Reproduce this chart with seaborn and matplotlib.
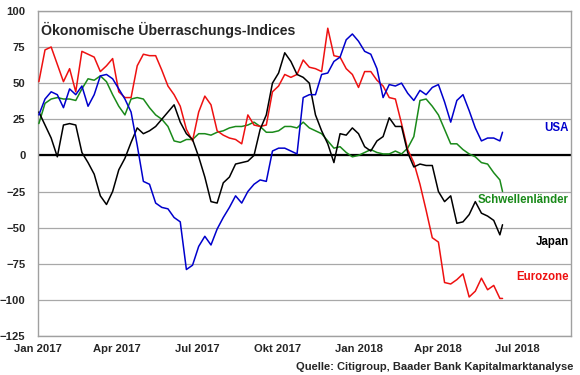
import matplotlib
matplotlib.use("Agg")
import matplotlib.pyplot as plt
import matplotlib.transforms as mtransforms
import pandas as pd
import seaborn as sns

# weekly readings, last point mid-June 2018
dates = list(pd.date_range("2017-01-02", periods=76, freq="7D")) + [pd.Timestamp("2018-06-14")]

usa = [28, 39, 44, 42, 33, 46, 42, 48, 34, 42,
       55, 56, 53, 46, 39, 30, 7, -18, -20, -33,
       -36, -37, -43, -46, -79, -76, -63, -56, -62, -51,
       -43, -36, -28, -33, -25, -20, -17, -18, 3, 5,
       5, 3, 1, 40, 42, 42, 56, 57, 65, 68,
       80, 84, 79, 72, 70, 60, 40, 49, 48, 50,
       43, 38, 45, 42, 47, 49, 37, 23, 38, 42,
       31, 19, 10, 12, 12, 10, 16]
schwellen = [22, 36, 39, 40, 39, 39, 38, 46, 53, 52,
             55, 51, 42, 34, 28, 39, 40, 39, 33, 28,
             25, 20, 10, 9, 11, 11, 15, 15, 14, 16,
             17, 19, 20, 20, 21, 23, 20, 16, 16, 17,
             20, 20, 19, 23, 19, 17, 15, 10, 5, 6,
             2, -1, 0, 2, 4, 2, 1, 1, 3, 1,
             5, 13, 38, 39, 34, 28, 18, 8, 8, 4,
             1, -1, -5, -6, -12, -17, -25]
japan = [30, 21, 12, -1, 21, 22, 21, 2, -5, -13,
         -28, -34, -25, -10, -2, 9, 19, 15, 17, 20,
         25, 30, 35, 23, 15, 11, -1, -15, -32, -33,
         -19, -15, -6, -5, -4, 0, 18, 28, 50, 57,
         71, 65, 56, 54, 50, 28, 17, 8, -5, 15,
         14, 19, 15, 6, 3, 10, 13, 26, 20, 20,
         2, -8, -6, -7, -7, -25, -32, -28, -47, -46,
         -41, -32, -40, -42, -45, -55, -48]
eurozone = [51, 73, 75, 63, 51, 60, 44, 72, 70, 68,
            58, 62, 67, 44, 40, 40, 62, 70, 69, 69,
            59, 48, 42, 34, 18, 10, 30, 41, 35, 17,
            14, 12, 11, 8, 28, 21, 20, 21, 44, 48,
            56, 54, 56, 66, 61, 60, 58, 88, 69, 68,
            60, 56, 47, 58, 58, 52, 48, 40, 39, 22,
            4, -5, -20, -38, -57, -60, -88, -89, -86, -82,
            -98, -94, -85, -93, -90, -99, -99]

series = ["Schwellenländer", "Eurozone", "Japan", "USA"]
colors = {"USA": "#0000cc", "Schwellenländer": "#1a8a1a",
          "Japan": "#000000", "Eurozone": "#ee1111"}
# label positions (value axis) on the right
label_y = {"USA": 19, "Schwellenländer": -31, "Japan": -60, "Eurozone": -84}

tick_dates = pd.date_range("2017-01-01", periods=7, freq="QS")
tick_labels = ["Jan 2017", "Apr 2017", "Jul 2017", "Okt 2017",
               "Jan 2018", "Apr 2018", "Jul 2018"]

df = pd.DataFrame({"Datum": dates, "USA": usa, "Schwellenländer": schwellen,
                   "Japan": japan, "Eurozone": eurozone})
df = df.melt(id_vars="Datum", var_name="Region", value_name="Index")

sns.set_style("white")
plt.rcParams["font.family"] = ["Liberation Sans", "DejaVu Sans"]
plt.rcParams["font.weight"] = "bold"

fig = plt.figure(figsize=(5.8, 3.75), dpi=100)
ax = fig.add_axes([0.0655, 0.104, 0.919, 0.867])

sns.lineplot(data=df, x="Datum", y="Index", hue="Region", hue_order=series,
             palette=colors, linewidth=1.1, legend=False, ax=ax, zorder=3)

ax.axhline(0, color="black", linewidth=1.6, zorder=2)
ax.set_ylim(-125, 100)
ax.set_yticks(range(-125, 101, 25))
ax.set_xlim(pd.Timestamp("2017-01-01"), pd.Timestamp("2018-08-31"))
ax.set_xticks(tick_dates)
ax.set_xticklabels(tick_labels)
ax.yaxis.grid(True, color="#a8a8a8", linewidth=0.9)
ax.set_axisbelow(True)
ax.set_xlabel("")
ax.set_ylabel("")
for s in ax.spines.values():
    s.set_color("#a0a0a0")
    s.set_linewidth(1.0)
ax.tick_params(axis="x", direction="out", length=3, color="#808080",
               labelsize=8.1, pad=3)
ax.tick_params(axis="y", length=0, labelsize=8.1, pad=9)

ax.text(0.006, 0.965, "Ökonomische Überraschungs-Indices", transform=ax.transAxes,
        fontsize=10.2, fontweight="bold", va="top", ha="left")

trans = mtransforms.blended_transform_factory(ax.transAxes, ax.transData)
for name in series:
    ax.text(0.996, label_y[name], name, transform=trans, ha="right", va="center",
            color=colors[name], fontsize=8.3, fontweight="bold")

fig.text(0.988, 0.022, "Quelle: Citigroup, Baader Bank Kapitalmarktanalyse",
         ha="right", va="center", fontsize=8.0, fontweight="bold")

fig.savefig("out.png", dpi=100)
